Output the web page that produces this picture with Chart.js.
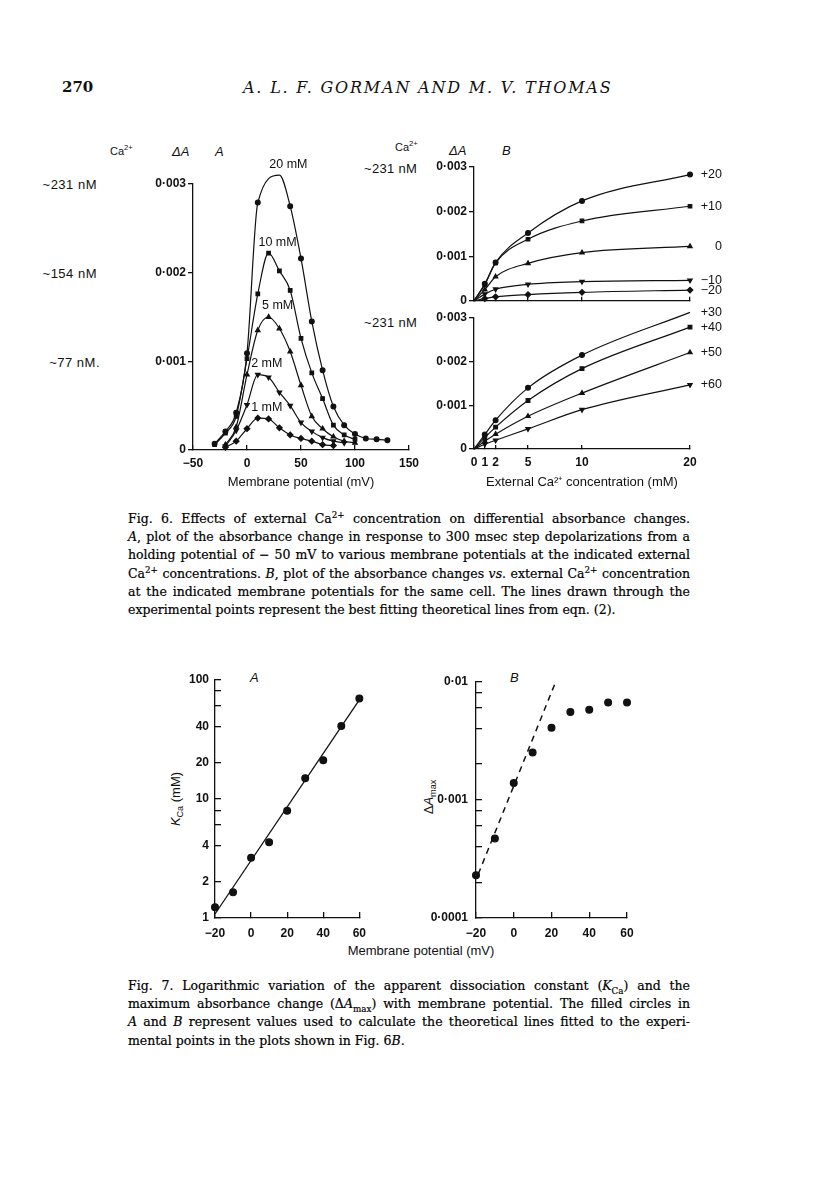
<!DOCTYPE html>
<html>
<head>
<meta charset="utf-8">
<title>Gorman &amp; Thomas, Figs 6 and 7</title>
<script src="https://cdn.jsdelivr.net/npm/chart.js@4.4.1/dist/chart.umd.min.js"></script>
<style>
  body { margin: 0; background: #fff; }
  #page { position: relative; width: 816px; height: 1185px; background: #fff; overflow: hidden;
          font-family: "Liberation Sans", Arial, sans-serif; color: #111; }
  canvas { position: absolute; }
  .t { position: absolute; white-space: nowrap; transform: translateY(-50%); font-size: 13px; }
  .serif { font-family: "DejaVu Serif", serif; }
  .rot { position: absolute; white-space: nowrap; transform: translate(-50%, -50%) rotate(-90deg); font-size: 13px; }
  .cap { position: absolute; left: 128px; width: 562px; font-family: "DejaVu Serif", serif;
         font-size: 12.5px; line-height: 18.2px; color: #000; -webkit-text-stroke: 0.2px #000; }
  .cap div { text-align: justify; text-align-last: justify; white-space: nowrap; }
  .cap div.last { text-align-last: left; }
  sup { font-size: 70%; line-height: 0; }
  sub { font-size: 70%; line-height: 0; }
</style>
</head>
<body>
<div id="page">
  <div class="t serif" style="left:62px; top:87px; font-size:15px; font-weight:bold;">270</div>
  <div class="t serif" style="left:243px; top:87px; font-size:16px; font-style:italic; letter-spacing:1.8px;">A. L. F. GORMAN AND M. V. THOMAS</div>

  <!-- Fig. 6A side labels -->
  <div class="t" style="left:110px; top:151px; font-size:11px;">Ca<sup>2+</sup></div>
  <div class="t" style="left:172px; top:151px; font-style:italic;">ΔA</div>
  <div class="t" style="left:215px; top:151px; font-style:italic;">A</div>
  <div class="t" style="right:719px; top:184px; letter-spacing:0.5px;">~231 nM</div>
  <div class="t" style="right:719px; top:273px; letter-spacing:0.5px;">~154 nM</div>
  <div class="t" style="right:716px; top:362px; letter-spacing:0.5px;">~77 nM.</div>

  <!-- Fig. 6B side labels -->
  <div class="t" style="left:395px; top:147px; font-size:11px;">Ca<sup>2+</sup></div>
  <div class="t" style="left:449px; top:150px; font-style:italic;">ΔA</div>
  <div class="t" style="left:502px; top:150px; font-style:italic;">B</div>
  <div class="t" style="left:364px; top:168px; letter-spacing:0.3px;">~231 nM</div>
  <div class="t" style="left:364px; top:322px; letter-spacing:0.3px;">~231 nM</div>

  <canvas id="fig6a" width="290" height="360" style="left:140px; top:140px;"></canvas>
  <canvas id="fig6bTop" width="340" height="160" style="left:400px; top:150px;"></canvas>
  <canvas id="fig6bBot" width="340" height="200" style="left:400px; top:300px;"></canvas>

  <div class="cap" style="top:510px;">
    <div>Fig. 6. Effects of external Ca<sup>2+</sup> concentration on differential absorbance changes.</div>
    <div><i>A</i>, plot of the absorbance change in response to 300 msec step depolarizations from a</div>
    <div>holding potential of − 50 mV to various membrane potentials at the indicated external</div>
    <div>Ca<sup>2+</sup> concentrations. <i>B</i>, plot of the absorbance changes <i>vs</i>. external Ca<sup>2+</sup> concentration</div>
    <div>at the indicated membrane potentials for the same cell. The lines drawn through the</div>
    <div class="last">experimental points represent the best fitting theoretical lines from eqn. (2).</div>
  </div>

  <!-- Fig. 7 labels -->
  <div class="t" style="left:250px; top:677px; font-style:italic;">A</div>
  <div class="t" style="left:510px; top:677px; font-style:italic;">B</div>
  <div class="rot" style="left:175px; top:799px;"><i>K</i><sub>Ca</sub> (mM)</div>
  <div class="rot" style="left:428px; top:797px;">Δ<i>A</i><sub>max</sub></div>
  <div class="t" style="left:421px; top:950px; transform:translate(-50%,-50%);">Membrane potential (mV)</div>

  <canvas id="fig7a" width="230" height="290" style="left:150px; top:660px;"></canvas>
  <canvas id="fig7b" width="250" height="290" style="left:400px; top:660px;"></canvas>

  <div class="cap" style="top:977px;">
    <div>Fig. 7. Logarithmic variation of the apparent dissociation constant (<i>K</i><sub>Ca</sub>) and the</div>
    <div>maximum absorbance change (Δ<i>A</i><sub>max</sub>) with membrane potential. The filled circles in</div>
    <div><i>A</i> and <i>B</i> represent values used to calculate the theoretical lines fitted to the experi-</div>
    <div class="last">mental points in the plots shown in Fig. 6<i>B</i>.</div>
  </div>
</div>

<script>
// ---------- Fig. 6A: ΔA (units of 0.001) vs membrane potential (mV) ----------
const concLabels6A = ['20 mM', '10 mM', '5 mM', '2 mM', '1 mM'];
const mv20 = [-30, -20, -10, 0, 10, 30, 40, 50, 60, 70, 80, 90, 100, 110, 120, 130];
const dA20 = [0.07, 0.21, 0.42, 1.09, 2.79, 3.10, 2.75, 2.16, 1.45, 0.90, 0.49, 0.28, 0.18, 0.13, 0.12, 0.11];
const mv10 = [-30, -20, -10, 0, 10, 20, 30, 40, 50, 60, 70, 80, 90, 100];
const dA10 = [0.06, 0.19, 0.38, 1.03, 1.76, 2.22, 2.02, 1.80, 1.26, 0.87, 0.58, 0.28, 0.17, 0.12];
const mv5 = [-20, -10, 0, 10, 20, 30, 40, 50, 60, 70, 80, 90, 100];
const dA5 = [0.06, 0.26, 0.85, 1.35, 1.50, 1.37, 1.11, 0.73, 0.38, 0.24, 0.15, 0.10, 0.08];
const mv2 = [-20, -10, 0, 10, 20, 30, 40, 50, 60, 70, 80, 90];
const dA2 = [0.04, 0.22, 0.51, 0.85, 0.82, 0.65, 0.50, 0.31, 0.21, 0.14, 0.10, 0.08];
const mv1 = [-20, -10, 0, 10, 20, 30, 40, 50, 60, 70, 80];
const dA1 = [0.03, 0.10, 0.24, 0.36, 0.35, 0.25, 0.17, 0.13, 0.10, 0.06, 0.05];
const ticksX6A = [-50, 0, 50, 100, 150];
const ticksY6 = [0, 1, 2, 3];

// ---------- Fig. 6B: ΔA (units of 0.001) vs external Ca2+ (mM) ----------
const conc = [0, 1, 2, 5, 10, 20];
const ticksX6B = [0, 1, 2, 5, 10, 20];
const potLabelsTop = ['+20', '+10', '0', '\u221210', '\u221220'];
const dAp20 = [0, 0.38, 0.86, 1.52, 2.24, 2.83];
const dAp10 = [0, 0.36, 0.85, 1.38, 1.79, 2.12];
const dAz0 = [0, 0.25, 0.54, 0.84, 1.08, 1.22];
const dAm10 = [0, 0.15, 0.26, 0.37, 0.43, 0.46];
const dAm20 = [0, 0.05, 0.09, 0.14, 0.19, 0.24];
const potLabelsBot = ['+30', '+40', '+50', '+60'];
const dAp30 = [0, 0.33, 0.66, 1.40, 2.15, 3.13];
const dAp40 = [0, 0.26, 0.50, 1.11, 1.84, 2.79];
const dAp50 = [0, 0.18, 0.34, 0.75, 1.28, 2.21];
const dAp60 = [0, 0.11, 0.20, 0.46, 0.90, 1.47];

// ---------- Fig. 7: log plots vs membrane potential ----------
const mv7 = [-20, -10, 0, 10, 20, 30, 40, 50, 60];
const kCa = [1.23, 1.64, 3.2, 4.3, 7.9, 14.8, 21, 40.5, 69];
const kFitMv = [-20, 60];
const kFit = [1.08, 67];
const dAmax = [0.00023, 0.00047, 0.00138, 0.0025, 0.00405, 0.0055, 0.00575, 0.0066, 0.0066];
const dFitMv = [-18.8, 21.9];
const dFit = [0.000235, 0.0096];
const ticksX7 = [-20, 0, 20, 40, 60];
const ticksY7A = [1, 2, 4, 6, 8, 10, 20, 40, 60, 80, 100];
const labelsY7A = [1, 2, 4, 10, 20, 40, 100];
const ticksY7B = [0.0001, 0.0002, 0.0004, 0.0006, 0.0008, 0.001, 0.002, 0.004, 0.006, 0.008, 0.01];
const labelsY7B = [0.0001, 0.001, 0.01];

const INK = '#111';
Chart.defaults.font.family = '"Liberation Sans", Arial, sans-serif';
Chart.defaults.font.size = 12;
Chart.defaults.color = INK;

const pts = (xs, ys) => xs.map((x, i) => ({ x: x, y: ys[i] }));
const minus = v => (v < 0 ? '\u2212' + Math.abs(v) : String(v));
const milli = v => (v === 0 ? '0' : (v / 1000).toFixed(3).replace('.', '\u00b7'));

// writes each series' name next to its peak or its last point
const seriesLabels = {
  id: 'seriesLabels',
  afterDatasetsDraw(chart, args, o) {
    if (!o || !o.mode) return;
    const ctx = chart.ctx;
    ctx.save();
    ctx.fillStyle = INK;
    ctx.font = '12.5px "Liberation Sans", Arial, sans-serif';
    ctx.textBaseline = 'middle';
    chart.data.datasets.forEach((ds, i) => {
      if (!ds.label) return;
      const meta = chart.getDatasetMeta(i).data;
      let k = meta.length - 1;
      if (o.mode === 'peak') {
        k = 0;
        ds.data.forEach((d, j) => { if (d.y > ds.data[k].y) k = j; });
        ctx.textAlign = 'center';
        ctx.fillText(ds.label, meta[k].x + o.dx, meta[k].y - o.dy);
      } else {
        ctx.textAlign = 'right';
        ctx.fillText(ds.label, meta[k].x + o.dx, meta[k].y);
      }
    });
    ctx.restore();
  }
};

function axis(cfg) {
  return {
    type: cfg.type || 'linear',
    min: cfg.min, max: cfg.max,
    afterBuildTicks: s => { s.ticks = cfg.ticks.map(v => ({ value: v })); },
    afterFit: s => { if (s.isHorizontal()) s.height = cfg.size; else s.width = cfg.size; },
    border: { color: INK, width: 1.3 },
    grid: { drawOnChartArea: false, color: INK, lineWidth: 1.3, tickLength: cfg.tick },
    ticks: { color: INK, padding: cfg.pad, autoSkip: false, maxRotation: 0,
             font: { size: 12, weight: 'bold' }, callback: v => cfg.fmt(v) },
    title: cfg.title
      ? { display: true, text: cfg.title, color: INK, font: { size: 13 }, padding: { top: 0, bottom: 10 } }
      : { display: false }
  };
}

function series(label, data, style, radius, rot) {
  return {
    label: label, data: data, clip: false,
    borderColor: INK, backgroundColor: INK, borderWidth: 1.2,
    pointStyle: style, pointRotation: rot || 0,
    pointRadius: c => (c.raw && c.raw.x === 0 && c.chart.canvas.id.startsWith('fig6b') ? 0 : radius),
    cubicInterpolationMode: 'monotone'
  };
}

function draw(id, datasets, xAxis, yAxis, padding, labelOpts) {
  return new Chart(document.getElementById(id), {
    type: 'line',
    data: { datasets: datasets },
    options: {
      responsive: false, animation: false, devicePixelRatio: 1,
      layout: { padding: padding },
      plugins: { legend: { display: false }, tooltip: { enabled: false }, seriesLabels: labelOpts || {} },
      scales: { x: xAxis, y: yAxis }
    },
    plugins: [seriesLabels]
  });
}

// Fig. 6A
draw('fig6a', [
  series(concLabels6A[0], pts(mv20, dA20), 'circle', 2.4),
  series(concLabels6A[1], pts(mv10, dA10), 'rect', 2.5),
  series(concLabels6A[2], pts(mv5, dA5), 'triangle', 2.6),
  series(concLabels6A[3], pts(mv2, dA2), 'triangle', 2.6, 180),
  series(concLabels6A[4], pts(mv1, dA1), 'rectRot', 2.8)
],
  axis({ min: -50, max: 150, ticks: ticksX6A, fmt: minus, size: 50, tick: -5, pad: 11, title: 'Membrane potential (mV)' }),
  axis({ min: 0, max: 3, ticks: ticksY6, fmt: milli, size: 53, tick: 5, pad: 2 }),
  { top: 44, right: 21, left: 0, bottom: 0 },
  { mode: 'peak', dx: 9, dy: 11 });

// Fig. 6B, upper panel
draw('fig6bTop', [
  series(potLabelsTop[0], pts(conc, dAp20), 'circle', 2.4),
  series(potLabelsTop[1], pts(conc, dAp10), 'rect', 2.5),
  series(potLabelsTop[2], pts(conc, dAz0), 'triangle', 2.5),
  series(potLabelsTop[3], pts(conc, dAm10), 'triangle', 2.5, 180),
  series(potLabelsTop[4], pts(conc, dAm20), 'rectRot', 2.8)
],
  axis({ min: 0, max: 20, ticks: ticksX6B, fmt: () => '', size: 9, tick: -4, pad: 0 }),
  axis({ min: 0, max: 3, ticks: ticksY6, fmt: milli, size: 74, tick: 5, pad: 2 }),
  { top: 17, right: 50, left: 0, bottom: 0 },
  { mode: 'end', dx: 32 });

// Fig. 6B, lower panel
draw('fig6bBot', [
  series(potLabelsBot[0], pts(conc, dAp30), 'circle', 2.4),
  series(potLabelsBot[1], pts(conc, dAp40), 'rect', 2.6),
  series(potLabelsBot[2], pts(conc, dAp50), 'triangle', 2.5),
  series(potLabelsBot[3], pts(conc, dAp60), 'triangle', 2.5, 180)
],
  axis({ min: 0, max: 20, ticks: ticksX6B, fmt: String, size: 51, tick: -4, pad: 10,
         title: 'External Ca\u00b2\u207a concentration (mM)' }),
  axis({ min: 0, max: 3, ticks: ticksY6, fmt: milli, size: 74, tick: 5, pad: 2 }),
  { top: 18, right: 50, left: 0, bottom: 0 },
  { mode: 'end', dx: 32 });

// Fig. 7A
draw('fig7a', [
  Object.assign(series('', pts(mv7, kCa), 'circle', 3.4), { showLine: false }),
  Object.assign(series('', pts(kFitMv, kFit), 'circle', 0), { borderWidth: 1.3 })
],
  axis({ min: -20, max: 60, ticks: ticksX7, fmt: minus, size: 32, tick: -6, pad: 14 }),
  axis({ type: 'logarithmic', min: 1, max: 100, ticks: ticksY7A,
         fmt: v => (labelsY7A.includes(v) ? String(v) : ''), size: 65, tick: -6, pad: 12 }),
  { top: 15, right: 17, left: 0, bottom: 0 });

// Fig. 7B
draw('fig7b', [
  Object.assign(series('', pts(mv7, dAmax), 'circle', 3.4), { showLine: false }),
  Object.assign(series('', pts(dFitMv, dFit), 'circle', 0), { borderWidth: 1.5, borderDash: [6, 5] })
],
  axis({ min: -20, max: 60, ticks: ticksX7, fmt: minus, size: 32, tick: -6, pad: 14 }),
  axis({ type: 'logarithmic', min: 0.0001, max: 0.01, ticks: ticksY7B,
         fmt: v => (labelsY7B.includes(v) ? String(v).replace('.', '\u00b7') : ''), size: 76, tick: -6, pad: 14 }),
  { top: 15, right: 23, left: 0, bottom: 0 });
</script>
</body>
</html>
